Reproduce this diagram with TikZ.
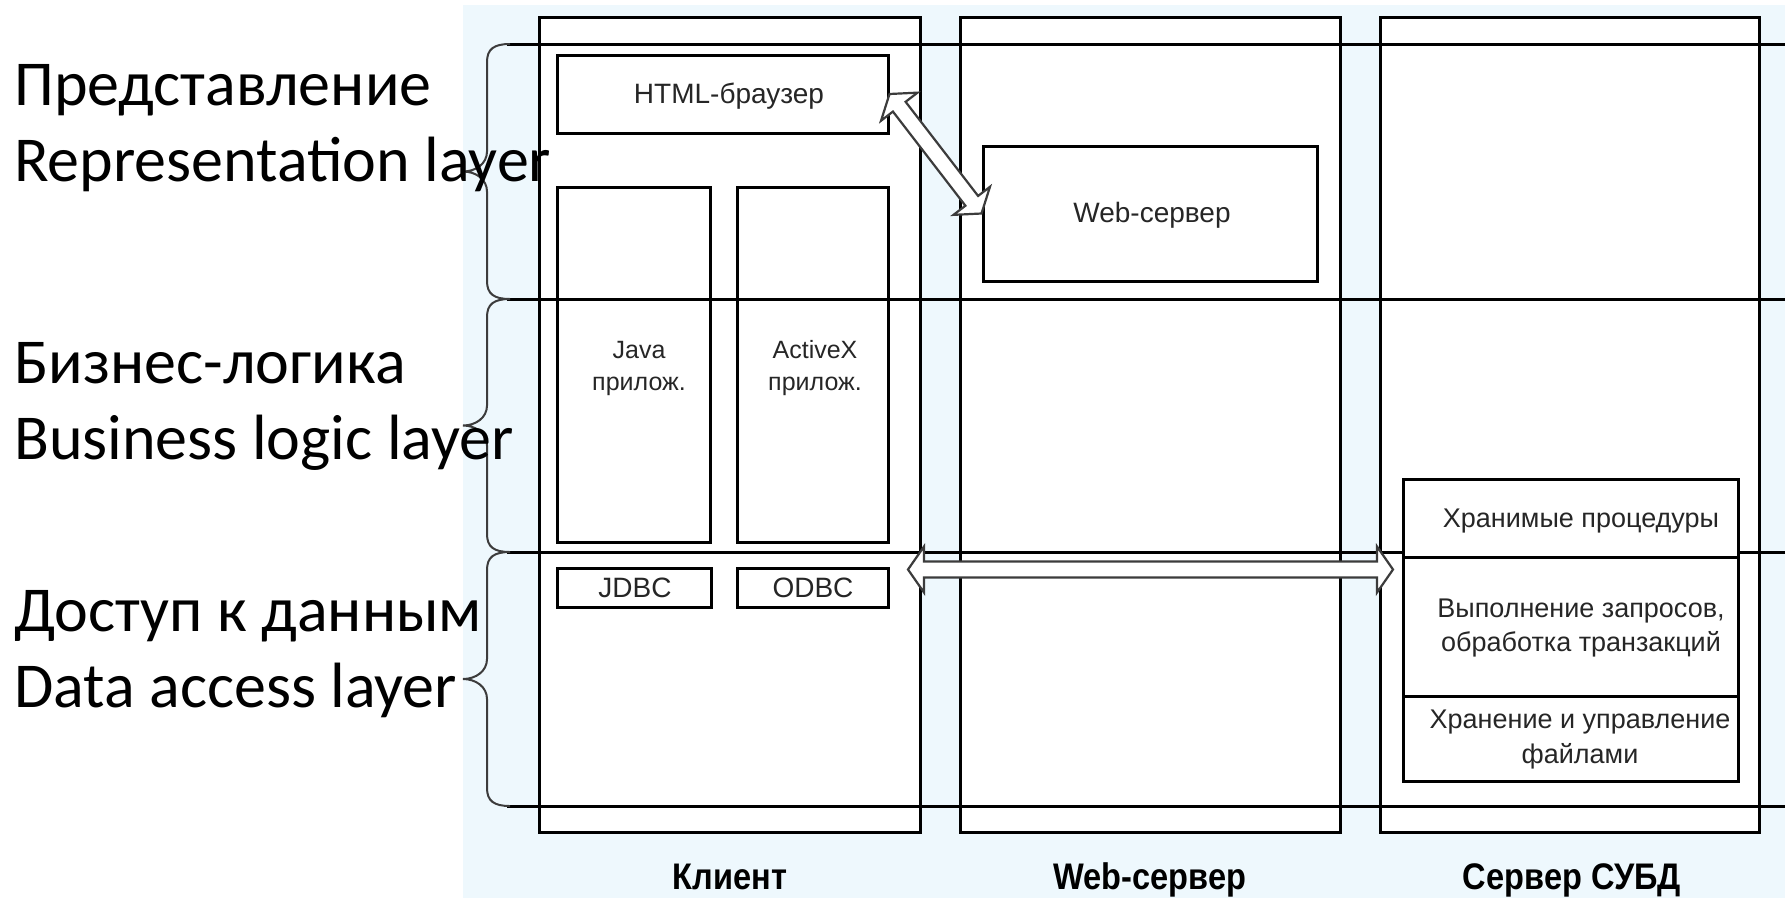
\documentclass[tikz,border=0pt]{standalone}
\usepackage{fontspec}
\setmainfont{Liberation Sans}
\newfontfamily\layerfont{Carlito}
\newfontfamily\tierfont[FakeStretch=0.88]{Liberation Sans}
\usetikzlibrary{calc}
\definecolor{paleblue}{RGB}{238,248,253}
\definecolor{inkgray}{RGB}{60,60,60}

% hollow double-headed arrow between two points
\newcommand\hollowdarrow[2]{%
  \draw[arrowbody] (#1)
    -- ($(#1)!16pt!(#2)!23pt!90:(#2)$)
    -- ($(#1)!16pt!(#2)!8pt!90:(#2)$)
    -- ($(#2)!16pt!(#1)!8pt!-90:(#1)$)
    -- ($(#2)!16pt!(#1)!23pt!-90:(#1)$)
    -- (#2)
    -- ($(#2)!16pt!(#1)!23pt!90:(#1)$)
    -- ($(#2)!16pt!(#1)!8pt!90:(#1)$)
    -- ($(#1)!16pt!(#2)!8pt!-90:(#2)$)
    -- ($(#1)!16pt!(#2)!23pt!-90:(#2)$)
    -- cycle;}

% curly brace opening to the left, from y=#1 to y=#2 with its tip at y=#3
\newcommand\layerbrace[3]{%
  \draw[bracepen] (510,#1) .. controls (494,#1) and (487,{#1+5}) .. (487,{#1+18})
    -- (487,{#3-20}) .. controls (487,{#3-8}) and (476,#3) .. (463,#3)
    .. controls (476,#3) and (487,{#3+8}) .. (487,{#3+20})
    -- (487,{#2-18}) .. controls (487,{#2-5}) and (494,#2) .. (510,#2);}

\begin{document}
\begin{tikzpicture}[x=1pt,y=-1pt,
  tiercol/.style={draw, line width=3pt, fill=white, inner sep=0pt,
    minimum height=815pt},
  partbox/.style={draw, line width=3pt, inner sep=0pt},
  layerline/.style={line width=3pt},
  bracepen/.style={draw=inkgray, line width=2pt},
  arrowbody/.style={draw=inkgray, line width=2.2pt, fill=white, line join=miter},
  txt/.style={inner sep=0pt, anchor=base, text=black!85},
  big/.style={txt, font=\fontsize{28}{32}\selectfont},
  mid/.style={txt, font=\fontsize{27}{32}\selectfont},
  small/.style={txt, font=\fontsize{25}{32}\selectfont},
  tiername/.style={txt, text=black, font=\tierfont\bfseries\fontsize{37}{42}\selectfont},
  layername/.style={inner sep=0pt, anchor=base west,
    font=\layerfont\fontsize{64}{76}\selectfont}]

\useasboundingbox (0,0) rectangle (1785,898);
\fill[paleblue] (463,5) rectangle (1785,898);

% tiers
\node[tiercol, minimum width=381pt] (client) at (729.5,424.5) {};
\node[tiercol, minimum width=380pt] (websrv) at (1150,424.5) {};
\node[tiercol, minimum width=379pt] (dbsrv)  at (1569.5,424.5) {};

% layer boundaries
\foreach \y in {44,299,552,806}
  \draw[layerline] (507,\y) -- (1785,\y);

% layer braces
\layerbrace{44}{299}{171.5}
\layerbrace{299}{552}{425.5}
\layerbrace{552}{806}{679}

% client components
\node[partbox, minimum width=331pt, minimum height=78pt]  (html)    at (722.5,94) {};
\node[partbox, minimum width=153pt, minimum height=355pt] (java)    at (633.5,364.5) {};
\node[partbox, minimum width=151pt, minimum height=355pt] (activex) at (812.5,364.5) {};
\node[partbox, minimum width=154pt, minimum height=39pt]  (jdbc)    at (634,587.5) {};
\node[partbox, minimum width=151pt, minimum height=39pt]  (odbc)    at (812.5,587.5) {};

% web server component
\node[partbox, minimum width=334pt, minimum height=135pt] (web) at (1150,213.5) {};

% DBMS components
\node[partbox, fill=white, minimum width=335pt, minimum height=78pt]  (procs) at (1570.5,518) {};
\node[partbox, fill=white, minimum width=335pt, minimum height=139pt] (exec)  at (1570.5,626.5) {};
\node[partbox, fill=white, minimum width=335pt, minimum height=85pt]  (files) at (1570.5,738.5) {};

% data access channel ends
\coordinate (daL) at (908,569.5);
\coordinate (daR) at (1393,569.5);

% connectors
\hollowdarrow{html.east}{web.west}
\hollowdarrow{daL}{daR}

% component labels
\node[big] (htmlT) at (729,103) {HTML-браузер};
\node[big] (webT)  at (1152,222) {Web-сервер};
\node[small] (javaA) at (639,358) {Java};
\node[small] (javaB) at (639,390) {прилож.};
\node[small] (axA)   at (815,358) {ActiveX};
\node[small] (axB)   at (815,390) {прилож.};
\node[big] (jdbcT) at (635,597) {JDBC};
\node[big] (odbcT) at (813,597) {ODBC};
\node[mid] (procT)  at (1581,527) {Хранимые процедуры};
\node[mid] (execA)  at (1581,617) {Выполнение запросов,};
\node[mid] (execB)  at (1581,651) {обработка транзакций};
\node[mid] (filesA) at (1580,728) {Хранение и управление};
\node[mid] (filesB) at (1580,763) {файлами};

% tier names
\node[tiername] (clientN) at (730,889) {Клиент};
\node[tiername] (webN)    at (1150,889) {Web-сервер};
\node[tiername] (dbN)     at (1572,889) {Сервер СУБД};

% layer names
\node[layername] (presA) at (14,105) {Представление};
\node[layername] (presB) at (14,181) {Representation layer};
\node[layername] (bizA)  at (14,383) {Бизнес-логика};
\node[layername] (bizB)  at (14,459) {Business logic layer};
\node[layername] (dataA) at (14,631) {Доступ к данным};
\node[layername] (dataB) at (14,707) {Data access layer};
\end{tikzpicture}
\end{document}
